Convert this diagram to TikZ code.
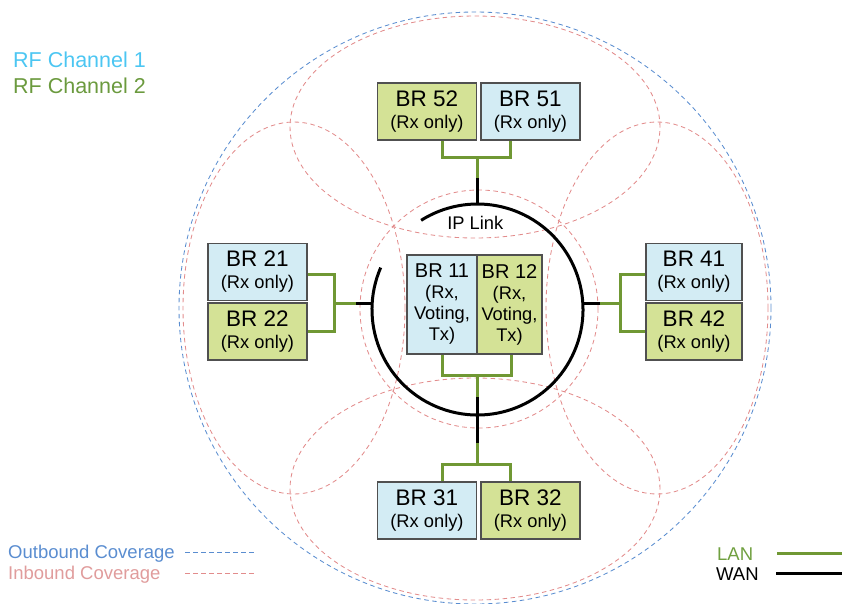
\documentclass[tikz,border=0pt]{standalone}
\usepackage{fontspec}
\setmainfont{Liberation Sans}
\usetikzlibrary{calc}
\definecolor{rfone}{RGB}{76,198,242}
\definecolor{rftwo}{RGB}{107,154,62}
\definecolor{outcol}{RGB}{90,141,208}
\definecolor{inbcol}{RGB}{226,140,140}
\definecolor{inbtext}{RGB}{224,156,156}
\definecolor{lancol}{RGB}{112,152,52}
\definecolor{lantext}{RGB}{112,160,64}
\definecolor{boxblue}{RGB}{211,236,244}
\definecolor{boxgreen}{RGB}{212,226,150}
\definecolor{boxline}{RGB}{80,80,80}
\newcommand\brfont{\fontsize{22.5}{24}\selectfont}
\newcommand\rxfont{\fontsize{18.3}{22}\selectfont}
\newcommand\rffont{\fontsize{21.5}{24}\selectfont}
\newcommand\legfont{\fontsize{18.5}{22}\selectfont}
\newcommand\ctrfont{\fontsize{18.3}{21}\selectfont}
\begin{document}
\begin{tikzpicture}[x=1pt,y=-1pt,
  boxbase/.style={draw=boxline, line width=1.2pt, minimum width=99pt, minimum height=57pt, inner sep=0pt, align=center, font=\rxfont},
  blubox/.style={boxbase, fill=boxblue},
  grnbox/.style={boxbase, fill=boxgreen},
  ctrbox/.style={minimum height=99pt, font=\ctrfont},
  lan/.style={draw=lancol, line width=3pt},
  wan/.style={draw=black, line width=3pt},
  inb/.style={draw=inbcol, line width=0.85pt, dash pattern=on 4.5pt off 3.5pt},
  outb/.style={draw=outcol, line width=0.85pt, dash pattern=on 4.5pt off 3.5pt},
  txt/.style={inner sep=0pt, anchor=base west}]
\useasboundingbox (0,0) rectangle (842,603);
% coverage areas
\draw[outb] (475,308) circle[radius=296pt];
\draw[inb] (479,309) circle[radius=119pt];
\draw[inb] (475,127) ellipse[x radius=185pt, y radius=111pt];
\draw[inb] (475,489) ellipse[x radius=185pt, y radius=111pt];
\draw[inb] (294,308) ellipse[x radius=111pt, y radius=186pt];
\draw[inb] (657,308) ellipse[x radius=111pt, y radius=186pt];
% IP link
\coordinate (ctr) at (477.5,309.5);
\draw[wan] ($(ctr)+(156.6:105.5pt)$) arc[start angle=156.6, end angle=482.3, radius=105.5pt];
\node[inner sep=0pt, anchor=base, font=\rxfont] (ip) at (475.3,229.3) {IP Link};
% junction points
\coordinate (tj) at (477,157);
\coordinate (tw) at (477,178);
\coordinate (cN) at (477,204.5);
\coordinate (cj) at (477,375);
\coordinate (cw1) at (477,397);
\coordinate (cw2) at (477,443);
\coordinate (bj) at (477,464);
\coordinate (lj) at (334,303);
\coordinate (lw) at (356,303);
\coordinate (cW) at (372.5,303);
\coordinate (rj) at (620,303);
\coordinate (rw) at (600,303);
\coordinate (cE) at (582.5,303);
% boxes
\node[grnbox] (b52) at (427,111.5) {{\brfont BR 52}\\(Rx only)};
\node[blubox] (b51) at (530.5,111.5) {{\brfont BR 51}\\(Rx only)};
\node[blubox] (b21) at (257.5,272) {{\brfont BR 21}\\(Rx only)};
\node[grnbox] (b22) at (257.5,331.5) {{\brfont BR 22}\\(Rx only)};
\node[blubox, minimum width=96pt] (b41) at (694,272) {{\brfont BR 41}\\(Rx only)};
\node[grnbox, minimum width=96pt] (b42) at (694,331.5) {{\brfont BR 42}\\(Rx only)};
\node[blubox] (b31) at (427,510.5) {{\brfont BR 31}\\(Rx only)};
\node[grnbox] (b32) at (530.5,510.5) {{\brfont BR 32}\\(Rx only)};
\node[blubox, ctrbox, minimum width=70pt] (b11) at (442,304.5) {{\fontsize{20}{21}\selectfont BR 11}\\(Rx,\\Voting,\\Tx)};
\node[grnbox, ctrbox, minimum width=65pt] (b12) at (509.5,304.5) {{\fontsize{20}{21}\selectfont BR 12}\\(Rx,\\Voting,\\Tx)};
% connectors
\draw[lan] ([xshift=15pt]b52.south) |- (tj) -| ([xshift=-20.5pt]b51.south);
\draw[lan] (tj) -- (tw);
\draw[wan] (tw) -- (cN);
\draw[lan] (b11.south) |- (cj) -| ([xshift=1.5pt]b12.south);
\draw[lan] (cj) -- (cw1);
\draw[wan] (cw1) -- (cw2);
\draw[lan] (cw2) -- (bj);
\draw[lan] ([xshift=15pt]b31.north) |- (bj) -| ([xshift=-20.5pt]b32.north);
\draw[lan] ([yshift=-2pt]b21.east) -| (lj) |- (b22.east);
\draw[lan] (lj) -- (lw);
\draw[wan] (lw) -- (cW);
\draw[lan] ([yshift=-2pt]b41.west) -| (rj) |- (b42.west);
\draw[lan] (rj) -- (rw);
\draw[wan] (rw) -- (cE);
% legends
\node[txt, text=rfone, font=\rffont] (rf1) at (13,67) {RF Channel 1};
\node[txt, text=rftwo, font=\rffont] (rf2) at (13,93) {RF Channel 2};
\node[txt, text=outcol, font=\legfont] (lo) at (8,558) {Outbound Coverage};
\node[txt, text=inbtext, font=\legfont] (li) at (8,579.3) {Inbound Coverage};
\coordinate (lo1) at (185,552.5);
\coordinate (lo2) at (257,552.5);
\coordinate (li1) at (185,573.5);
\coordinate (li2) at (257,573.5);
\draw[outb] (lo1) -- (lo2);
\draw[inb, line width=1pt] (li1) -- (li2);
\node[txt, text=lantext, font=\legfont] (lanlbl) at (717,560) {LAN};
\node[txt, text=black, font=\legfont] (wanlbl) at (716,580.5) {WAN};
\coordinate (ll1) at (777,553);
\coordinate (ll2) at (842,553);
\coordinate (lw1) at (776,573.5);
\coordinate (lw2) at (842,573.5);
\draw[lan] (ll1) -- (ll2);
\draw[wan] (lw1) -- (lw2);
\end{tikzpicture}
\end{document}
